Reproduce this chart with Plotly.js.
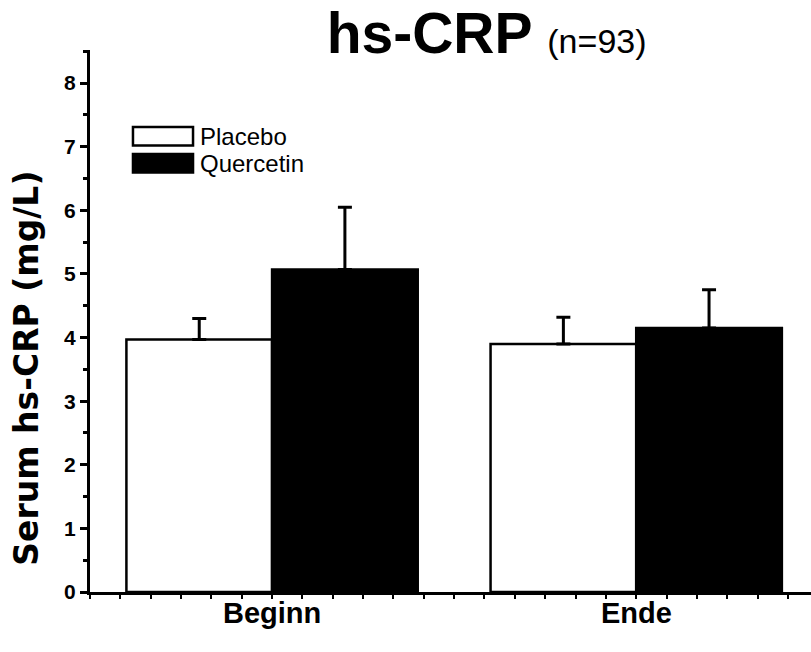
<!DOCTYPE html>
<html>
<head>
<meta charset="utf-8">
<script src="https://cdn.plot.ly/plotly-3.0.1.min.js"></script>
<style>html,body{margin:0;padding:0;background:#fff;}#chart{width:811px;height:652px;}</style>
</head>
<body>
<div id="chart"></div>
<script>
// ---- data ----
const categories = ['Beginn', 'Ende'];
const seriesNames = ['Placebo', 'Quercetin'];
const placeboMean = [3.97, 3.90];
const placeboErr  = [0.33, 0.42];
const quercetinMean = [5.07, 4.15];
const quercetinErr  = [0.98, 0.60];
const yTickLabels = ['0','1','2','3','4','5','6','7','8'];

// ---- layout helpers (positions, not data) ----
const groupSpacing = 12;
const xPos = categories.map((c, i) => groupSpacing / 2 + i * groupSpacing);
const xMax = 23.76;
const tickVals = [];
for (let t = 0; t <= 23; t++) tickVals.push(t);

const font = 'Arial, "Liberation Sans", sans-serif';

const traces = [
  {
    type: 'bar', name: seriesNames[0], x: xPos, y: placeboMean,
    marker: {color: '#ffffff', line: {color: '#000', width: 2.5}},
    error_y: {type: 'data', symmetric: false, array: placeboErr, arrayminus: placeboErr.map(() => 0),
              color: '#000', thickness: 3, width: 7},
    showlegend: false, hoverinfo: 'skip'
  },
  {
    type: 'bar', name: seriesNames[1], x: xPos, y: quercetinMean,
    marker: {color: '#000000', line: {color: '#000', width: 2.5}},
    error_y: {type: 'data', symmetric: false, array: quercetinErr, arrayminus: quercetinErr.map(() => 0),
              color: '#000', thickness: 3, width: 7},
    showlegend: false, hoverinfo: 'skip'
  }
];

// legend drawn as shapes + text (large swatches like the reference)
const legendFills = ['#ffffff', '#000000'];
const shapes = [], annotations = [];
seriesNames.forEach((n, i) => {
  const yTop = 0.858 - i * 0.05, yBot = yTop - 0.034;
  shapes.push({type: 'rect', xref: 'paper', yref: 'paper', x0: 0.0596, x1: 0.1429, y0: yBot, y1: yTop,
    fillcolor: legendFills[i], line: {color: '#000', width: 2.5}});
  annotations.push({xref: 'paper', yref: 'paper', x: 0.1498, y: (yTop + yBot) / 2, xanchor: 'left', yanchor: 'middle',
    text: n, showarrow: false, font: {family: font, size: 24, color: '#000'}});
});

// category labels under the groups
categories.forEach((c, i) => {
  annotations.push({xref: 'x', yref: 'paper', x: xPos[i], y: -0.038, xanchor: 'center', yanchor: 'middle',
    text: c, showarrow: false, font: {family: font, size: 29, color: '#000', weight: 'bold'}});
});

// y-axis title (placed like the reference, lower than the axis centre)
annotations.push({xref: 'paper', yref: 'paper', x: -0.088, y: 0.413, xanchor: 'center', yanchor: 'middle',
  textangle: -90, text: 'Serum hs-CRP (mg/L)', showarrow: false,
  font: {family: '"DejaVu Sans", Arial, sans-serif', size: 33, color: '#000', weight: 'bold'}});

const layout = {
  width: 811, height: 652,
  margin: {l: 90, r: 0, t: 50, b: 60},
  paper_bgcolor: '#fff', plot_bgcolor: '#fff',
  barmode: 'group', bargap: 0.2, bargroupgap: 0,
  title: {
    text: 'hs-CRP <span style="font-size:34px;font-weight:normal">(n=93)</span>',
    font: {family: font, size: 57, color: '#000', weight: 'bold'},
    xref: 'container', yref: 'container', x: 0.6, xanchor: 'center', y: 0.98, yanchor: 'top'
  },
  xaxis: {
    range: [0, xMax], showgrid: false, zeroline: false,
    showline: true, linecolor: '#000', linewidth: 3,
    tickmode: 'array', tickvals: tickVals, showticklabels: false,
    ticks: 'outside', ticklen: 4, tickwidth: 2, tickcolor: '#000'
  },
  yaxis: {
    range: [0, 8.52], showgrid: false, zeroline: false,
    showline: true, linecolor: '#000', linewidth: 3,
    tickmode: 'array', tickvals: yTickLabels.map(Number), ticktext: yTickLabels,
    ticks: 'outside', ticklen: 7, tickwidth: 3, tickcolor: '#000',
    minor: {dtick: 0.5, ticks: 'outside', ticklen: 4, tickwidth: 3, tickcolor: '#000', tick0: 0},
    tickfont: {family: font, size: 21, color: '#000', weight: 'bold'}
  },
  shapes: shapes,
  annotations: annotations
};

Plotly.newPlot('chart', traces, layout, {displayModeBar: false, staticPlot: true});
</script>
</body>
</html>
